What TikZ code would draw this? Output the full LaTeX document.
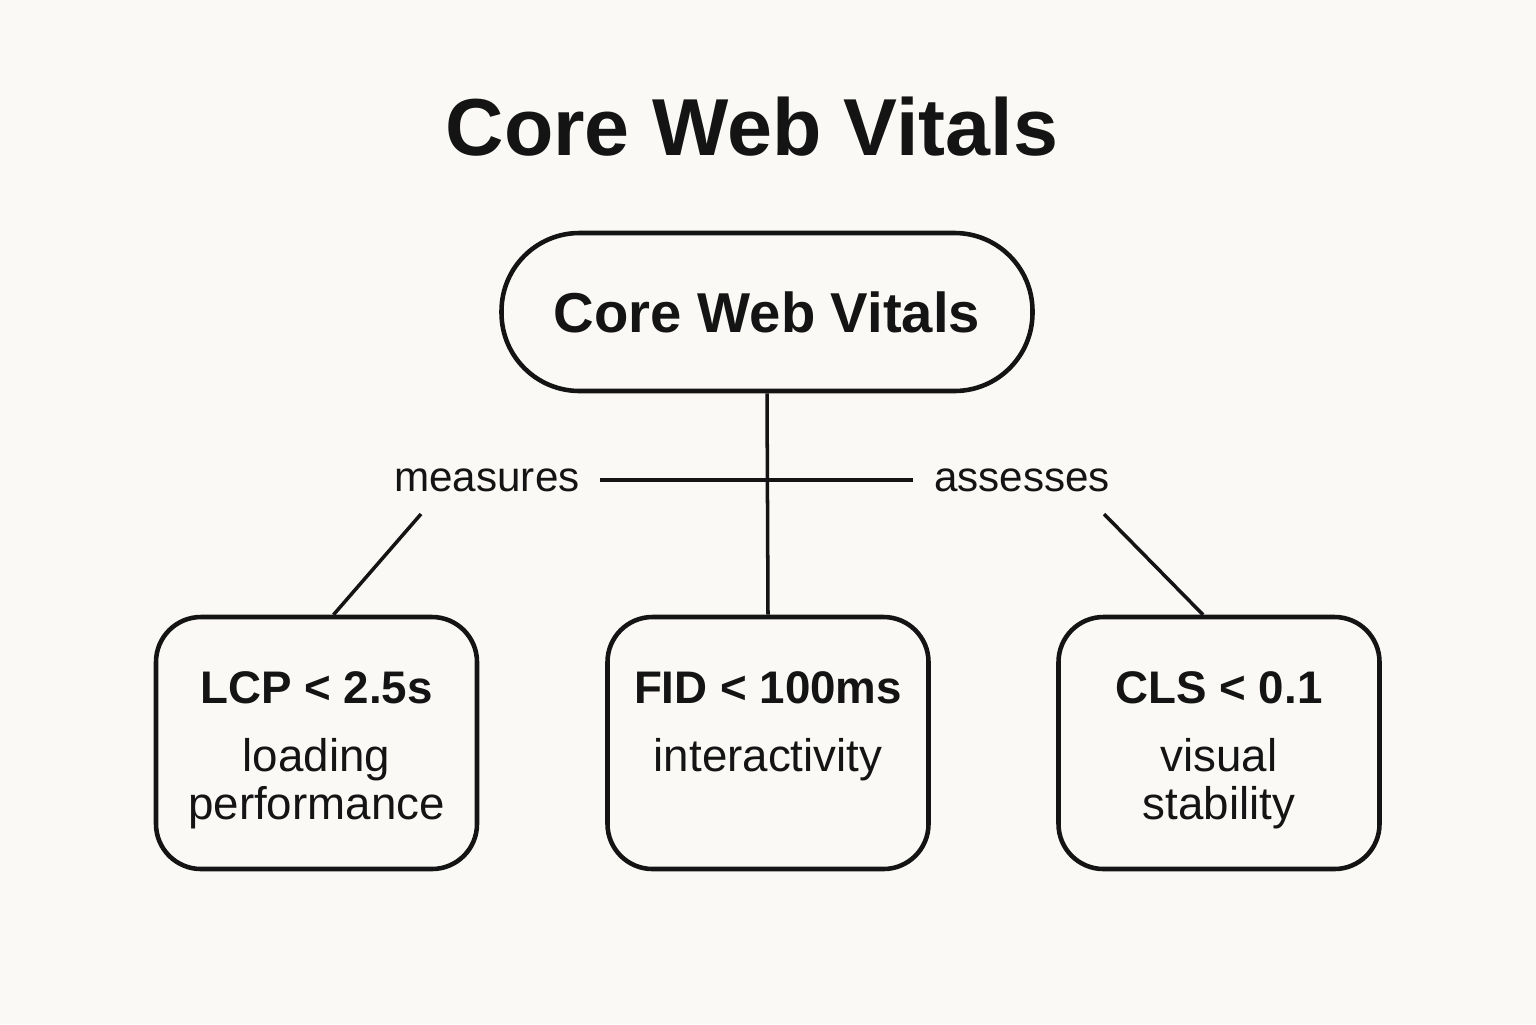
\documentclass[tikz,border=0pt]{standalone}
\usepackage{fontspec}
\setmainfont{Liberation Sans}
\usetikzlibrary{positioning}
\usetikzlibrary{calc}
\definecolor{paper}{RGB}{250,249,245}
\definecolor{ink}{RGB}{20,20,20}
\tikzstyle{pill}=[draw=ink,line width=1.3pt,rounded corners=0.78cm,minimum width=5.31cm,minimum height=1.58cm,inner sep=0pt,font=\fontsize{16}{19}\selectfont\bfseries,text=ink]
\tikzstyle{metricbox}=[draw=ink,line width=1.3pt,rounded corners=0.45cm,minimum width=3.21cm,minimum height=2.52cm,inner sep=0pt]
\tikzstyle{head}=[anchor=base,font=\fontsize{13}{15}\selectfont\bfseries,text=ink,inner sep=0pt]
\tikzstyle{aspect}=[anchor=north,align=center,font=\fontsize{13}{13.7}\selectfont,text=ink,inner sep=0pt]
\tikzstyle{link} = [draw=ink,line width=1pt]
\tikzstyle{tag} = [font=\fontsize{12}{14}\selectfont,text=ink,inner xsep=0.2cm,inner ysep=0.1cm]

\begin{document}
\begin{tikzpicture}
    % Paper and frame
    \fill[paper] (0,0) rectangle (15.36,-10.24);
    \useasboundingbox (0,0) rectangle (15.36,-10.24);

    % Title and the root
    \node[anchor=base,font=\fontsize{23}{27}\selectfont\bfseries,text=ink] (title) at (7.52,-1.55) {Core Web Vitals};
    \node[pill] (core) at (7.67,-3.12) {Core Web Vitals};

    % First we draw the metric boxes
    \foreach \pos/\name/\metric/\what in {{(3.165,-7.43)/lcp/LCP < 2.5s/loading\\performance}, {(7.68,-7.43)/fid/FID < 100ms/interactivity}, {(12.19,-7.43)/cls/CLS < 0.1/visual\\stability}}
    {
        \node[metricbox] (\name) at \pos {};
        \node[head] (\name-head) at ([yshift=-0.89cm]\name.north) {\metric};
        \node[aspect] (\name-aspect) at ([yshift=-1.23cm]\name.north) {\what};
    }

    % Edge labels
    \node[tag] (measures) at (4.87,-4.80) {measures};
    \node[tag] (assesses) at (10.22,-4.80) {assesses};
    \coordinate (mtail) at (4.21,-5.14);
    \coordinate (atail) at (11.04,-5.14);

    % Connect the root with the boxes
    \draw[link] (core.south) -- (fid.north);
    \draw[link] (measures) -- (assesses);
    \draw[link] (mtail) -- ([xshift=0.17cm]lcp.north);
    \draw[link] (atail) -- ([xshift=-0.16cm]cls.north);
\end{tikzpicture}
\end{document}
